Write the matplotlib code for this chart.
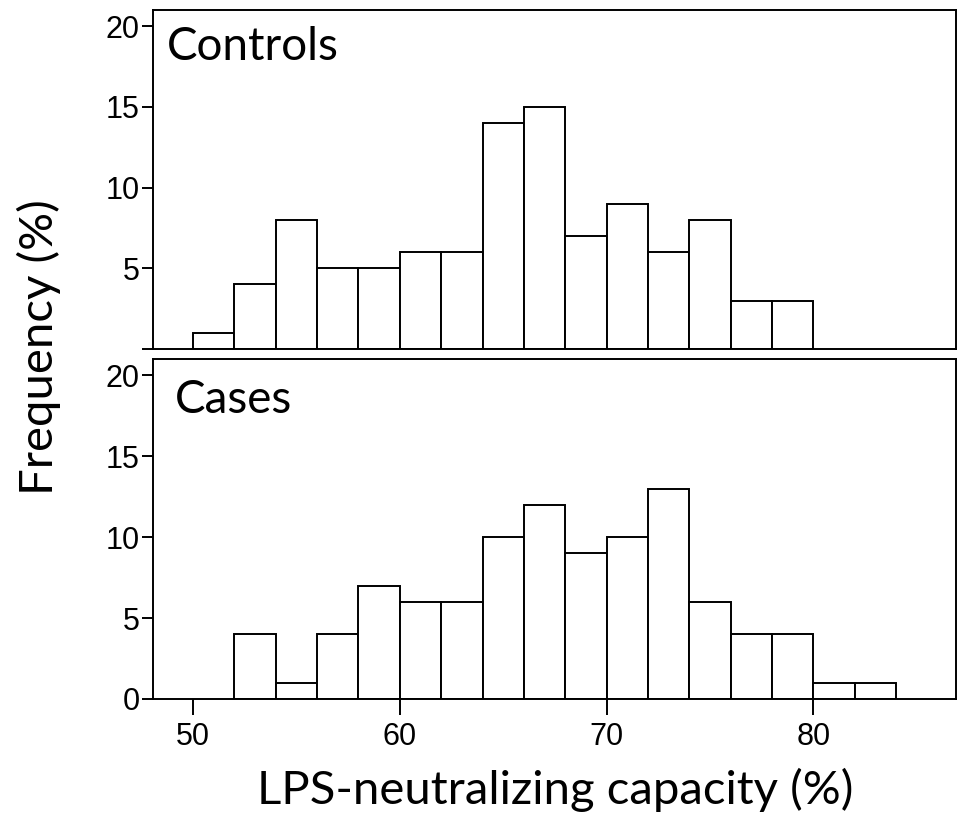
import numpy as np
import matplotlib
matplotlib.use("Agg")
import matplotlib.pyplot as plt

plt.rcParams['font.family'] = ['Liberation Sans', 'DejaVu Sans']

# histogram data (bin width 2, % of subjects)
bin_width = 2
controls_left = [50, 52, 54, 56, 58, 60, 62, 64, 66, 68, 70, 72, 74, 76, 78]
controls_freq = [1, 4, 8, 5, 5, 6, 6, 14, 15, 7, 9, 6, 8, 3, 3]
cases_left = [52, 54, 56, 58, 60, 62, 64, 66, 68, 70, 72, 74, 76, 78, 80, 82]
cases_freq = [4, 1, 4, 7, 6, 6, 10, 12, 9, 10, 13, 6, 4, 4, 1, 1]

x_ticks = [50, 60, 70, 80]
y_ticks = [0, 5, 10, 15, 20]
top_ylabels = ["", "5", "10", "15", "20"]

label_font = "Lato"

fig = plt.figure(figsize=[9.59, 8.16], dpi=100)
ax_top = fig.add_axes([0.1595, 0.5723, 0.8374, 0.4154])
ax_bot = fig.add_axes([0.1595, 0.1434, 0.8374, 0.4166])

for ax, left, freq in [(ax_top, controls_left, controls_freq),
                       (ax_bot, cases_left, cases_freq)]:
    ax.bar(left, freq, width=bin_width, align="edge",
           facecolor="white", edgecolor="black", linewidth=1.4)
    ax.set_xlim(48.06, 86.9)
    ax.set_ylim(0, 21)
    ax.set_yticks(y_ticks)
    for s in ax.spines.values():
        s.set_linewidth(1.4)
    ax.tick_params(axis="y", direction="out", length=8, width=1.4, pad=1.5,
                   labelsize=22)

# top panel: no x ticks, no 0 label
ax_top.tick_params(axis="x", bottom=False, labelbottom=False)
ax_top.set_yticklabels(top_ylabels)

ax_bot.set_xticks(x_ticks)
ax_bot.tick_params(axis="x", direction="out", length=11.5, width=1.4, pad=5,
                   labelsize=22)

# panel names
fig.text(167 / 959, 1 - 60 / 816, "Controls", fontsize=33,
         fontfamily=label_font, va="baseline", ha="left")
fig.text(175 / 959, 1 - 413 / 816, "Cases", fontsize=33,
         fontfamily=label_font, va="baseline", ha="left")

fig.text(39 / 959, 1 - 347 / 816, "Frequency (%)", rotation=90,
         fontsize=34, fontfamily=label_font, ha="center", va="center")
fig.text(555.5 / 959, 1 - 804 / 816, "LPS-neutralizing capacity (%)",
         fontsize=34, fontfamily=label_font, ha="center", va="baseline")

fig.savefig("out.png", dpi=100)
